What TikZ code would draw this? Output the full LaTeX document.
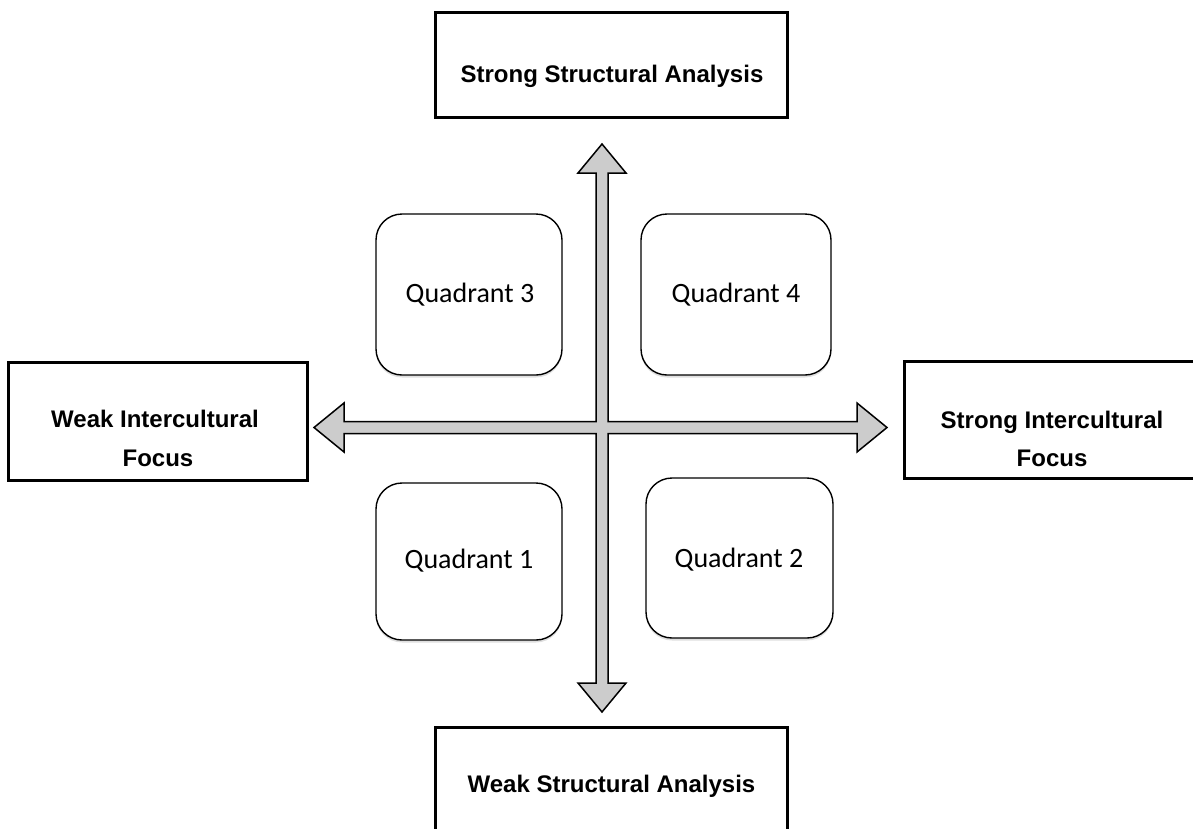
\documentclass[tikz,border=0pt]{standalone}
\usepackage{fontspec}
\newfontfamily\arialf{Liberation Sans}
\newfontfamily\calibf{Carlito}
\usetikzlibrary{shadows}
\begin{document}
\begin{tikzpicture}[x=1pt,y=-1pt,
  labelbox/.style={draw=black,line width=3pt,fill=white,inner sep=0pt},
  labeltext/.style={font=\arialf\bfseries\fontsize{24}{28}\selectfont,anchor=base,inner sep=0pt},
  quadbox/.style={draw=black,line width=1.4pt,fill=white,rounded corners=26pt,
    drop shadow={opacity=0.25,shadow xshift=0pt,shadow yshift=-2.5pt}},
  quadtext/.style={font=\calibf\fontsize{28}{32}\selectfont,anchor=base,inner sep=0pt},
  crossarrow/.style={draw=black,line width=1.5pt,fill=black!20,line join=miter}
]
\useasboundingbox (0,0) rectangle (1193,828);
\clip (0,0) rectangle (1193,828);

% label boxes
\draw[labelbox] (435,12) rectangle (787,117);
\node[labeltext] (top) at (612,82) {Strong Structural Analysis};

\draw[labelbox] (435,727) rectangle (787,840);
\node[labeltext] (bottom) at (611.5,792) {Weak Structural Analysis};

\draw[labelbox] (8,362) rectangle (307,480);
\node[labeltext] (left1) at (155,427) {Weak Intercultural};
\node[labeltext] (left2) at (158,466) {Focus};

\draw[labelbox] (904,361) rectangle (1200,478);
\node[labeltext] (right1) at (1052,428) {Strong Intercultural};
\node[labeltext] (right2) at (1052,466) {Focus};

% quadrants
\draw[quadbox] (376,214) rectangle (562,375);
\node[quadtext] (q3) at (470,302) {Quadrant 3};
\draw[quadbox] (641,214) rectangle (831,375);
\node[quadtext] (q4) at (736,302) {Quadrant 4};
\draw[quadbox] (376,483) rectangle (562,640);
\node[quadtext] (q1) at (469,568) {Quadrant 1};
\draw[quadbox] (646,478) rectangle (833,638);
\node[quadtext] (q2) at (739,567) {Quadrant 2};

% four-way arrow
\coordinate (c) at (602,427.5);
\draw[crossarrow]
  (602,144) -- (626,173) -- (608,173) -- (608,421.5) -- (857,421.5) -- (857,403)
  -- (887,427.5) -- (857,452) -- (857,433.5) -- (608,433.5) -- (608,683) -- (626,683)
  -- (602,712) -- (578,683) -- (596,683) -- (596,433.5) -- (344,433.5) -- (344,452)
  -- (314,427.5) -- (344,403) -- (344,421.5) -- (596,421.5) -- (596,173) -- (578,173) -- cycle;
\end{tikzpicture}
\end{document}
